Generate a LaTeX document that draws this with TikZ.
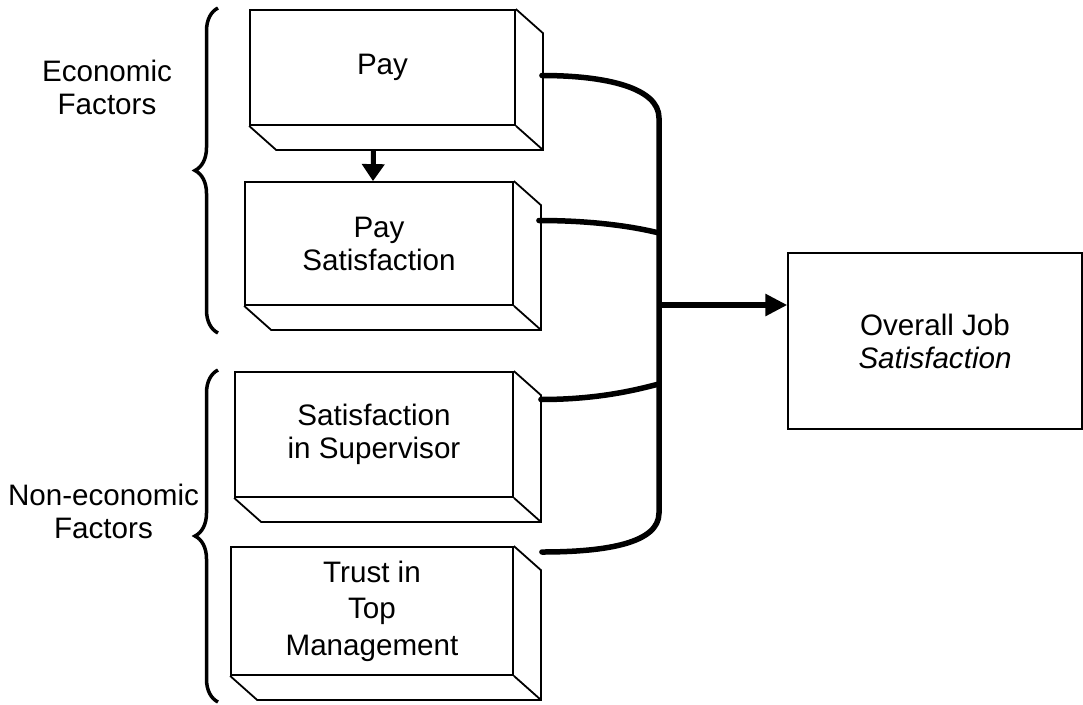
\documentclass[tikz,border=0pt]{standalone}
\usepackage{fontspec}
\setmainfont{Liberation Sans}
\usepackage{tikz}
\usetikzlibrary{positioning, calc, arrows.meta, decorations.pathreplacing}
\tikzset{
    facebox/.style = {draw=black, line width=1.8pt, inner sep=0pt, align=center,
        font=\fontsize{29.6}{33}\selectfont},
    sidebox/.style = {draw=black, line width=1.8pt, line join=miter},
    link/.style = {line width=5.5pt, line cap=round},
    bracket/.style = {decorate, decoration={brace, amplitude=23pt}, line width=3.5pt},
    grouplabel/.style = {align=center, font=\fontsize{29.6}{33}\selectfont},
}

\begin{document}
\begin{tikzpicture}[x=1pt, y=-1pt, >={Triangle[length=22pt,width=21pt]}]
        \useasboundingbox (0,0) rectangle (1083,704);
        % factor boxes
        \node (pay) [facebox, minimum width=265pt, minimum height=115pt] at (382.5,67.5) {Pay};
        \node (paysat) [facebox, minimum width=268pt, minimum height=123pt] at (379,243.5) {Pay\\Satisfaction};
        \node (super) [facebox, minimum width=278pt, minimum height=125pt] at (374,434.5) {Satisfaction\\in Supervisor};
        \node (trust) [facebox, minimum width=282pt, minimum height=128pt,
            font=\fontsize{29.6}{36.5}\selectfont] at (372,611) {Trust in\\Top\\Management};
        \foreach \b in {pay, paysat, super, trust}{
            \draw[sidebox] (\b.north east) -- ++(27,24) |- ($(\b.south west)+(27,24)$) -- (\b.south west);
            \draw[sidebox] (\b.south east) -- ++(27,24);
        }
        % outcome
        \node (overall) [facebox, line width=1.3pt, minimum width=294pt, minimum height=176pt]
            at (935,341) {Overall Job\\\textit{Satisfaction}};
        % groups
        \draw[bracket] (218,333) -- (218,8);
        \draw[bracket] (218,702) -- (218,370);
        \node (econ) [grouplabel] at (107,87) {Economic\\Factors};
        \node (nonecon) [grouplabel] at (103.5,511) {Non-economic\\Factors};
        % links
        \coordinate (bustop) at (659,118);
        \coordinate (busbot) at (659,513);
        \coordinate (join) at (659,305);
        \draw[link] ($(pay.east)+(26,8)$) .. controls +(65,0) and +(0,-30) .. (bustop)
            -- (busbot) .. controls +(0,30) and +(65,0) .. ($(trust.east)+(28,-59)$);
        \draw[link] ($(paysat.east)+(25,-23)$) .. controls +(60,0) and +(-20,-5) .. (659,233);
        \draw[link] ($(super.east)+(27,-35)$) .. controls +(60,0) and +(-20,5) .. (659,384);
        \draw[link, line cap=butt, ->] (join) -- (join -| overall.west);
        \draw[line width=5pt, -{Triangle[length=17pt,width=22pt]}] ($(pay.south)+(-9,24)$) -- ($(paysat.north)+(-6,0)$);
\end{tikzpicture}
\end{document}
